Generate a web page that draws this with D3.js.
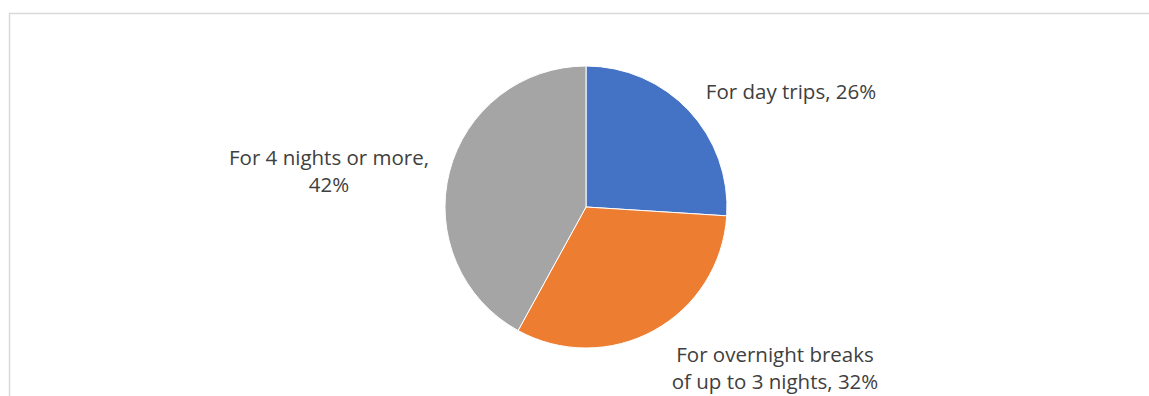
<!DOCTYPE html>
<html><head><meta charset="utf-8">
<script src="https://cdn.jsdelivr.net/npm/d3@7"></script>
<style>html,body{margin:0;padding:0;background:#fff;}</style>
</head><body><svg id="c" width="1149" height="396"></svg>
<script>
const categories = ["For day trips", "For overnight breaks of up to 3 nights", "For 4 nights or more"];
const values = [26, 32, 42];
const colors = ["#4472c4", "#ed7d31", "#a5a5a5"];
const labelLines = [["For day trips, 26%"], ["For overnight breaks", "of up to 3 nights, 32%"], ["For 4 nights or more,", "42%"]];

const svg = d3.select("#c");
svg.append("rect").attr("x", 9.5).attr("y", 13.5).attr("width", 1160).attr("height", 400)
  .attr("fill", "none").attr("stroke", "#d9d9d9").attr("stroke-width", 1.5);

const cx = 586, cy = 207, r = 141;
const pie = d3.pie().sort(null).value(d => d)(values);
const arc = d3.arc().innerRadius(0).outerRadius(r);
const g = svg.append("g").attr("transform", `translate(${cx},${cy})`);
g.selectAll("path").data(pie).join("path").attr("d", arc)
  .attr("fill", (d, i) => colors[i]).attr("stroke", "#fff").attr("stroke-width", 1);

// label anchors (layout)
const labelPos = [{x: 791, y: 99}, {x: 775, y: 362}, {x: 329, y: 165}];
const lh = 27;
labelLines.forEach((lines, i) => {
  const t = svg.append("text").attr("text-anchor", "middle")
    .attr("font-family", "'Open Sans', sans-serif").attr("font-size", 20.5).attr("fill", "#404040");
  lines.forEach((ln, j) => t.append("tspan").attr("x", labelPos[i].x).attr("y", labelPos[i].y + j * lh).text(ln));
});
</script></body></html>
